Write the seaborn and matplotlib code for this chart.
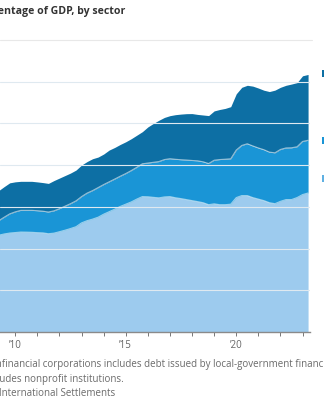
import numpy as np
import pandas as pd
import matplotlib
matplotlib.use("Agg")
import matplotlib.pyplot as plt
from matplotlib.patches import Rectangle
import seaborn as sns

# Quarterly observations (decimal year), 2009 Q2 .. 2023 Q2
quarters = [2009.25 + 0.25 * i for i in range(57)]

corporations = [116.0, 117.5, 118.6, 119.2, 119.8, 119.7, 119.5, 119.1, 118.8, 117.8,
                118.5, 120.2, 122.0, 124.0, 126.2, 130.8, 133.4, 135.3, 137.6, 141.2,
                144.2, 147.2, 150.5, 153.2, 155.9, 159.3, 162.3, 162.1, 161.4, 160.8,
                161.9, 162.3, 160.9, 159.9, 158.7, 157.5, 156.3, 155.0, 152.6, 153.6,
                152.6, 152.6, 153.2, 161.1, 163.5, 163.5, 161.1, 159.3, 157.5, 155.0,
                153.8, 156.6, 158.7, 158.7, 161.1, 164.7, 166.6]
households = [17.4, 20.1, 23.0, 24.8, 26.0, 26.1, 26.3, 26.3, 26.0, 26.0,
              26.7, 27.6, 28.8, 29.8, 31.0, 31.5, 33.1, 34.2, 35.5, 35.5,
              35.8, 36.1, 36.2, 36.7, 37.6, 38.1, 39.3, 40.4, 42.0, 43.5,
              44.8, 45.4, 46.1, 46.6, 47.4, 48.1, 48.9, 49.0, 49.3, 52.3,
              54.1, 54.5, 54.4, 57.0, 60.1, 62.1, 61.9, 61.3, 61.0, 60.6,
              61.0, 62.2, 61.9, 62.1, 60.9, 63.7, 63.2]
government = [36.1, 36.7, 37.2, 36.0, 34.8, 34.8, 34.8, 34.5, 34.3, 34.3,
              36.3, 36.7, 36.7, 36.7, 36.9, 37.8, 37.8, 38.2, 36.6, 36.6,
              38.1, 37.9, 38.1, 38.1, 38.2, 38.5, 38.5, 43.3, 46.6, 49.5,
              50.5, 51.6, 53.5, 54.7, 55.6, 56.2, 55.6, 56.1, 57.5, 59.1,
              60.0, 60.9, 62.5, 67.4, 69.7, 70.1, 71.7, 71.8, 71.3, 72.6,
              75.1, 74.5, 75.1, 76.4, 76.9, 78.7, 78.9]

tick_years = list(range(2010, 2024))
tick_labels = {2010: "\u201910", 2015: "\u201915", 2020: "\u201920"}
grid_values = [50, 100, 150, 200, 250, 300]

title_text = "Debt as a percentage of GDP, by sector"
note_line1 = "Note: Debt of nonfinancial corporations includes debt issued by local-government financing vehicles."
note_line2 = "Household debt includes nonprofit institutions."
note_line3 = "Source: Bank for International Settlements"

c_corp = "#9dcbee"
c_house = "#1a95d6"
c_gov = "#0d6fa4"

sns.set_theme(style="white")
plt.rcParams["font.family"] = ["Open Sans", "DejaVu Sans"]

df = pd.DataFrame({"quarter": quarters, "corporations": corporations,
                   "households": households, "government": government})
df["low"] = df["corporations"]
df["mid"] = df["low"] + df["households"]
df["top"] = df["mid"] + df["government"]

W, H = 324, 400
fig = plt.figure(figsize=(W / 100, H / 100), dpi=100)
ax = fig.add_axes([0, 68 / H, 310 / W, 292 / H])

ax.fill_between(df["quarter"], 0, df["low"], color=c_corp, lw=0, zorder=1)
ax.fill_between(df["quarter"], df["low"], df["mid"], color=c_house, lw=0, zorder=1)
ax.fill_between(df["quarter"], df["mid"], df["top"], color=c_gov, lw=0, zorder=1)

for col in ["low", "mid"]:
    sns.lineplot(data=df, x="quarter", y=col, ax=ax, color="white", alpha=0.55,
                 lw=0.8, zorder=2, legend=False)

for g in grid_values:
    ax.axhline(g, color="#dfe9f0", lw=0.8, zorder=3)

ax.set_xlim(2009.31, 2009.31 + 310 / 22.1)
ax.set_ylim(0, 350)
ax.set_xlabel("")
ax.set_ylabel("")
ax.set_yticks([])
ax.set_xticks(tick_years)
ax.set_xticklabels([tick_labels.get(y, "") for y in tick_years])
ax.tick_params(axis="x", direction="out", length=3, width=0.7, color="#777777",
               labelsize=7, labelcolor="#666666", pad=3, bottom=True)
for s in ["top", "left", "right"]:
    ax.spines[s].set_visible(False)
ax.spines["bottom"].set_color("#8a8a8a")
ax.spines["bottom"].set_linewidth(1.0)
ax.spines["bottom"].set_zorder(4)

fig.text(125 / W, 1 - 14 / H, title_text, ha="right", va="baseline",
         fontsize=7.6, fontweight="bold", color="#333333")

# footnotes (the reference is cropped at the left and right edges)
t1 = fig.text(-62 / W, 1 - 367 / H, note_line1, ha="left", va="baseline",
              fontsize=7.0, color="#6a6a6a")
fig.text(124 / W, 1 - 382 / H, note_line2, ha="right", va="baseline",
         fontsize=7.0, color="#6a6a6a")
fig.text(115 / W, 1 - 396 / H, note_line3, ha="right", va="baseline",
         fontsize=7.0, color="#6a6a6a")

# align first note so that "financial" starts near the left edge
fig.canvas.draw()
r = fig.canvas.get_renderer()
prefix = fig.text(0, 0, "Note: Debt of non", fontsize=7.0)
pw = prefix.get_window_extent(renderer=r).width
prefix.remove()
t1.set_x((1.5 - pw) / W)

for yc, col in [(73, c_gov), (140, c_house), (178, "#5fb0e2")]:
    fig.patches.append(Rectangle((321.5 / W, 1 - (yc + 3.5) / H), 6 / W, 7 / H,
                                 transform=fig.transFigure, color=col, lw=0))

fig.add_artist(plt.Line2D([0, 312 / W], [1 - 40 / H, 1 - 40 / H],
                          color="#e8e8e8", lw=0.8, transform=fig.transFigure))

fig.savefig("out.png", dpi=100)
